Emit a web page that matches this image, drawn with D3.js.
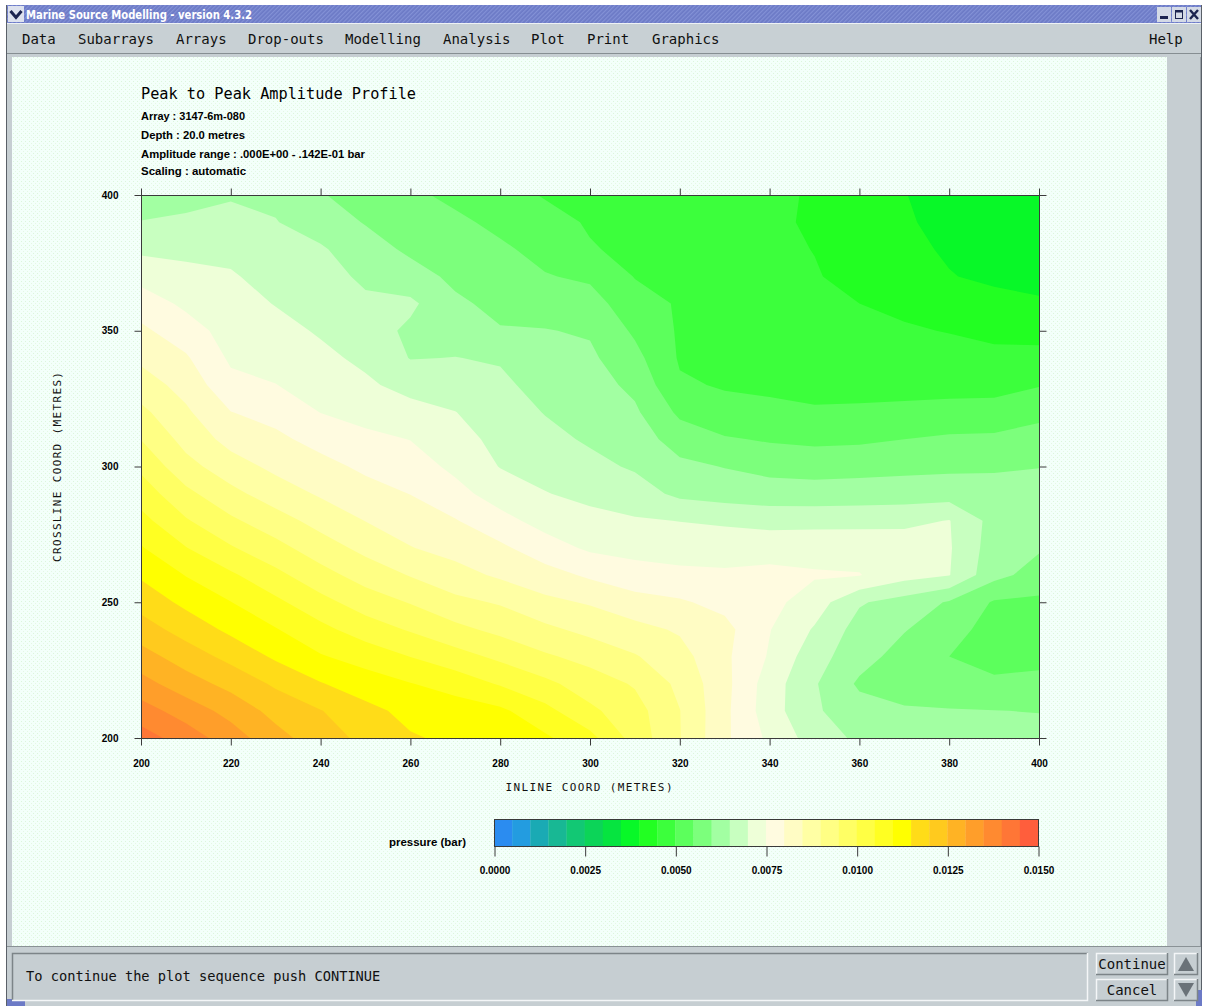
<!DOCTYPE html>
<html>
<head>
<meta charset="utf-8">
<script src="https://cdn.jsdelivr.net/npm/d3@7"></script>
<style>
  html, body { margin: 0; padding: 0; background: #ffffff; overflow: hidden; }
  svg { display: block; }
</style>
</head>
<body>
<svg id="win" width="1207" height="1006"></svg>
<script>
// ---- survey grid (metres) ----
const inlineCoords = [200, 210, 220, 230, 240, 250, 260, 270, 280, 290, 300,
                      310, 320, 330, 340, 350, 360, 370, 380, 390, 400];
const crosslineCoords = [400, 390, 380, 370, 360, 350, 340, 330, 320, 310, 300,
                         290, 280, 270, 260, 250, 240, 230, 220, 210, 200];

// peak-to-peak amplitude (bar), one row per crossline coordinate, west to east
const amplitudeRows = [
  [0.00620, 0.00630, 0.00645, 0.00640, 0.00603, 0.00582, 0.00560, 0.00538, 0.00515, 0.00497, 0.00489, 0.00481, 0.00472, 0.00464, 0.00456, 0.00447, 0.00425, 0.00401, 0.00388, 0.00378, 0.00370],
  [0.00652, 0.00660, 0.00666, 0.00652, 0.00626, 0.00597, 0.00579, 0.00560, 0.00538, 0.00514, 0.00496, 0.00486, 0.00477, 0.00467, 0.00457, 0.00445, 0.00425, 0.00404, 0.00390, 0.00380, 0.00370],
  [0.00690, 0.00688, 0.00687, 0.00667, 0.00656, 0.00621, 0.00591, 0.00575, 0.00558, 0.00535, 0.00503, 0.00491, 0.00480, 0.00470, 0.00459, 0.00449, 0.00430, 0.00410, 0.00395, 0.00385, 0.00380],
  [0.00734, 0.00714, 0.00705, 0.00682, 0.00669, 0.00641, 0.00619, 0.00590, 0.00573, 0.00553, 0.00542, 0.00498, 0.00490, 0.00480, 0.00470, 0.00453, 0.00437, 0.00419, 0.00402, 0.00392, 0.00390],
  [0.00776, 0.00740, 0.00718, 0.00698, 0.00682, 0.00659, 0.00660, 0.00608, 0.00588, 0.00578, 0.00570, 0.00520, 0.00495, 0.00490, 0.00483, 0.00475, 0.00450, 0.00440, 0.00425, 0.00413, 0.00404],
  [0.00810, 0.00772, 0.00730, 0.00715, 0.00695, 0.00674, 0.00640, 0.00629, 0.00603, 0.00602, 0.00595, 0.00542, 0.00494, 0.00490, 0.00485, 0.00480, 0.00465, 0.00455, 0.00448, 0.00440, 0.00434],
  [0.00840, 0.00806, 0.00742, 0.00733, 0.00711, 0.00690, 0.00648, 0.00651, 0.00645, 0.00616, 0.00609, 0.00565, 0.00495, 0.00490, 0.00488, 0.00485, 0.00480, 0.00475, 0.00468, 0.00460, 0.00464],
  [0.00874, 0.00832, 0.00764, 0.00751, 0.00730, 0.00708, 0.00684, 0.00675, 0.00661, 0.00631, 0.00621, 0.00588, 0.00506, 0.00496, 0.00493, 0.00492, 0.00490, 0.00490, 0.00488, 0.00485, 0.00497],
  [0.00912, 0.00858, 0.00801, 0.00783, 0.00749, 0.00734, 0.00717, 0.00701, 0.00673, 0.00648, 0.00632, 0.00608, 0.00540, 0.00515, 0.00509, 0.00503, 0.00505, 0.00507, 0.00512, 0.00517, 0.00537],
  [0.00949, 0.00883, 0.00833, 0.00811, 0.00783, 0.00761, 0.00749, 0.00720, 0.00685, 0.00663, 0.00644, 0.00626, 0.00577, 0.00555, 0.00545, 0.00539, 0.00542, 0.00550, 0.00559, 0.00560, 0.00570],
  [0.00989, 0.00917, 0.00872, 0.00838, 0.00816, 0.00790, 0.00773, 0.00739, 0.00698, 0.00683, 0.00663, 0.00644, 0.00612, 0.00598, 0.00585, 0.00581, 0.00583, 0.00587, 0.00590, 0.00593, 0.00599],
  [0.01027, 0.00963, 0.00914, 0.00875, 0.00844, 0.00819, 0.00799, 0.00766, 0.00728, 0.00702, 0.00688, 0.00672, 0.00639, 0.00628, 0.00622, 0.00620, 0.00623, 0.00625, 0.00627, 0.00622, 0.00615],
  [0.01066, 0.01005, 0.00959, 0.00921, 0.00882, 0.00849, 0.00826, 0.00803, 0.00766, 0.00732, 0.00714, 0.00705, 0.00699, 0.00692, 0.00683, 0.00685, 0.00685, 0.00688, 0.00702, 0.00632, 0.00622],
  [0.01104, 0.01052, 0.01005, 0.00966, 0.00924, 0.00886, 0.00852, 0.00833, 0.00810, 0.00772, 0.00742, 0.00734, 0.00728, 0.00730, 0.00732, 0.00732, 0.00733, 0.00728, 0.00705, 0.00625, 0.00605],
  [0.01143, 0.01098, 0.01058, 0.01013, 0.00968, 0.00929, 0.00897, 0.00868, 0.00842, 0.00819, 0.00792, 0.00770, 0.00762, 0.00757, 0.00762, 0.00755, 0.00752, 0.00718, 0.00702, 0.00615, 0.00580],
  [0.01181, 0.01138, 0.01101, 0.01061, 0.01016, 0.00976, 0.00947, 0.00913, 0.00895, 0.00862, 0.00845, 0.00819, 0.00806, 0.00785, 0.00765, 0.00725, 0.00655, 0.00630, 0.00595, 0.00545, 0.00540],
  [0.01223, 0.01180, 0.01139, 0.01103, 0.01064, 0.01025, 0.00995, 0.00963, 0.00937, 0.00911, 0.00886, 0.00865, 0.00844, 0.00815, 0.00752, 0.00695, 0.00630, 0.00603, 0.00570, 0.00530, 0.00530],
  [0.01270, 0.01226, 0.01185, 0.01142, 0.01104, 0.01080, 0.01049, 0.01019, 0.00989, 0.00957, 0.00933, 0.00904, 0.00868, 0.00810, 0.00745, 0.00670, 0.00620, 0.00580, 0.00550, 0.00530, 0.00540],
  [0.01318, 0.01273, 0.01234, 0.01192, 0.01153, 0.01124, 0.01102, 0.01079, 0.01045, 0.01012, 0.00975, 0.00945, 0.00888, 0.00815, 0.00725, 0.00655, 0.00592, 0.00580, 0.00570, 0.00560, 0.00560],
  [0.01372, 0.01327, 0.01283, 0.01233, 0.01202, 0.01165, 0.01135, 0.01125, 0.01110, 0.01065, 0.01010, 0.00970, 0.00901, 0.00812, 0.00722, 0.00657, 0.00620, 0.00605, 0.00603, 0.00601, 0.00598],
  [0.01422, 0.01377, 0.01324, 0.01268, 0.01222, 0.01188, 0.01155, 0.01140, 0.01128, 0.01108, 0.01065, 0.00980, 0.00902, 0.00810, 0.00739, 0.00677, 0.00640, 0.00630, 0.00625, 0.00620, 0.00620]
];

// contour levels (bar) and the fill of each band [level, next level)
const levels = [0.0000, 0.0005, 0.0010, 0.0015, 0.0020, 0.0025, 0.0030, 0.0035, 0.0040, 0.0045,
                0.0050, 0.0055, 0.0060, 0.0065, 0.0070, 0.0075, 0.0080, 0.0085, 0.0090, 0.0095,
                0.0100, 0.0105, 0.0110, 0.0115, 0.0120, 0.0125, 0.0130, 0.0135, 0.0140, 0.0145, 0.0150];
const bandColors = ["#2b8cf0", "#239ce0", "#1aaab4", "#18b894", "#12c874", "#0cd458", "#06e440", "#08f828",
                    "#22ff22", "#3cff3c", "#5cff5c", "#7cff7c", "#a2ffa2", "#c8ffc0", "#eeffd8",
                    "#fffbe0", "#fffcc4", "#ffffa4", "#ffff84", "#ffff64", "#ffff44", "#ffff22", "#ffff00",
                    "#ffdc18", "#ffca1e", "#ffb324", "#ff9e2a", "#ff8a30", "#ff7636", "#ff5e3c"];

// axis ticks
const inlineTicks = [200, 220, 240, 260, 280, 300, 320, 340, 360, 380, 400];
const crosslineTicks = [200, 250, 300, 350, 400];
const pressureTicks = [0.0000, 0.0025, 0.0050, 0.0075, 0.0100, 0.0125, 0.0150];

// window texts
const menuItems = ["Data", "Subarrays", "Arrays", "Drop-outs", "Modelling", "Analysis", "Plot", "Print", "Graphics"];
const menuX = [22, 78, 176, 248, 345, 443, 531, 587, 652];
const headerLines = ["Array : 3147-6m-080", "Depth : 20.0 metres",
                     "Amplitude range : .000E+00 - .142E-01 bar", "Scaling : automatic"];

const MONO = "'DejaVu Sans Mono', monospace";
const SMALL = "'Liberation Sans', Arial, sans-serif";
const GREY = "#c6ced2";

const svg = d3.select("#win");
const defs = svg.append("defs");

// hatched title bar
const hatch = defs.append("pattern").attr("id", "hatch").attr("width", 3).attr("height", 3)
  .attr("patternUnits", "userSpaceOnUse").attr("patternTransform", "rotate(45)");
hatch.append("rect").attr("width", 3).attr("height", 3).attr("fill", "#6c7ac6");
hatch.append("rect").attr("width", 1.2).attr("height", 3).attr("fill", "#8391d6");

// speckled canvas background
const speck = defs.append("pattern").attr("id", "speck").attr("width", 4).attr("height", 4)
  .attr("patternUnits", "userSpaceOnUse");
speck.append("rect").attr("width", 4).attr("height", 4).attr("fill", "#f3fffa");
speck.append("rect").attr("x", 1).attr("y", 1).attr("width", 1).attr("height", 1).attr("fill", "#dcf6dc");
speck.append("rect").attr("x", 3).attr("y", 3).attr("width", 1).attr("height", 1).attr("fill", "#e4f8e4");

// ---- window chrome ----
svg.append("rect").attr("x", 6).attr("y", 5).attr("width", 1196).attr("height", 1001).attr("fill", GREY);
svg.append("line").attr("x1", 6.5).attr("y1", 5).attr("x2", 6.5).attr("y2", 1006).attr("stroke", "#5a6068");
svg.append("line").attr("x1", 1201.5).attr("y1", 5).attr("x2", 1201.5).attr("y2", 1006).attr("stroke", "#5a6068");
svg.append("rect").attr("x", 7).attr("y", 999).attr("width", 18).attr("height", 7).attr("fill", "#6c7ac6");
svg.append("rect").attr("x", 1196).attr("y", 990).attr("width", 6).attr("height", 16).attr("fill", "#6c7ac6");

// title bar
svg.append("rect").attr("x", 7).attr("y", 5).attr("width", 1194).attr("height", 18).attr("fill", "url(#hatch)");
svg.append("rect").attr("x", 8).attr("y", 6).attr("width", 16).attr("height", 16).attr("fill", "#dde2ee");
svg.append("path").attr("d", "M10.5,11 L16,17.5 L21.5,11").attr("fill", "none")
  .attr("stroke", "#1c2450").attr("stroke-width", 3);
svg.append("text").attr("x", 26).attr("y", 19).attr("fill", "#ffffff")
  .attr("font-family", "'DejaVu Sans Condensed', 'DejaVu Sans', sans-serif").attr("font-weight", "bold")
  .attr("font-size", 11.5).attr("textLength", 226).attr("lengthAdjust", "spacingAndGlyphs")
  .text("Marine Source Modelling - version 4.3.2");
[1157, 1172, 1187].forEach((bx, i) => {
  svg.append("rect").attr("x", bx).attr("y", 7).attr("width", 14).attr("height", 15).attr("fill", "#d4dae6");
  if (i === 0) svg.append("rect").attr("x", bx + 3).attr("y", 16).attr("width", 8).attr("height", 3).attr("fill", "#1c2450");
  if (i === 1) {
    svg.append("rect").attr("x", bx + 3.5).attr("y", 10.5).attr("width", 7).attr("height", 8)
      .attr("fill", "none").attr("stroke", "#1c2450");
    svg.append("rect").attr("x", bx + 3).attr("y", 10).attr("width", 8).attr("height", 2.5).attr("fill", "#1c2450");
  }
  if (i === 2) svg.append("path").attr("d", `M${bx + 3},10 L${bx + 11},19 M${bx + 11},10 L${bx + 3},19`)
    .attr("stroke", "#1c2450").attr("stroke-width", 2.4);
});

// menu bar
svg.append("rect").attr("x", 7).attr("y", 23).attr("width", 1194).attr("height", 30).attr("fill", "#c8d0d4");
svg.append("line").attr("x1", 7).attr("y1", 23.5).attr("x2", 1201).attr("y2", 23.5).attr("stroke", "#eef2f4");
svg.append("line").attr("x1", 7).attr("y1", 53.5).attr("x2", 1201).attr("y2", 53.5).attr("stroke", "#868e92");
svg.selectAll("text.menu").data(menuItems).join("text").attr("class", "menu")
  .attr("x", (d, i) => menuX[i]).attr("y", 44)
  .attr("font-family", MONO).attr("font-size", 14).attr("fill", "#101010").text(d => d);
svg.append("text").attr("x", 1149).attr("y", 44).attr("font-family", MONO).attr("font-size", 14)
  .attr("fill", "#101010").text("Help");

// drawing canvas
svg.append("rect").attr("x", 12).attr("y", 57).attr("width", 1155).attr("height", 889).attr("fill", "url(#speck)");
svg.append("line").attr("x1", 1200.5).attr("y1", 57).attr("x2", 1200.5).attr("y2", 946).attr("stroke", "#9aa2a8");

// ---- contour plot ----
const x = d3.scaleLinear().domain([200, 400]).range([141, 1039]);
const y = d3.scaleLinear().domain([200, 400]).range([738, 195]);

defs.append("clipPath").attr("id", "plotClip").append("rect")
  .attr("x", x(200)).attr("y", y(400)).attr("width", x(400) - x(200)).attr("height", y(200) - y(400));

const nx = inlineCoords.length, ny = crosslineCoords.length;
// grid samples sit at cell centres in the contour generator's coordinate space
const gx = d3.scaleLinear().domain([0.5, nx - 0.5]).range([x(inlineCoords[0]), x(inlineCoords[nx - 1])]);
const gy = d3.scaleLinear().domain([0.5, ny - 0.5]).range([y(crosslineCoords[0]), y(crosslineCoords[ny - 1])]);
const gridToPlot = d3.geoTransform({ point(px, py) { this.stream.point(gx(px), gy(py)); } });
const contourPath = d3.geoPath(gridToPlot);

const bands = d3.contours().size([nx, ny]).thresholds(levels.slice(0, -1))(amplitudeRows.flat());

svg.append("g").attr("clip-path", "url(#plotClip)")
  .selectAll("path").data(bands).join("path")
  .attr("d", contourPath)
  .attr("fill", d => bandColors[levels.indexOf(d.value)]);

// frame and ticks
svg.append("rect").attr("x", x(200) + 0.5).attr("y", y(400) + 0.5)
  .attr("width", x(400) - x(200)).attr("height", y(200) - y(400))
  .attr("fill", "none").attr("stroke", "#3a3a3a");

function styleAxis(g) {
  g.select(".domain").remove();
  g.selectAll(".tick line").attr("stroke", "#3a3a3a");
  g.selectAll(".tick text").attr("font-family", SMALL).attr("font-weight", "bold")
    .attr("font-size", 10).attr("fill", "#000");
}
svg.append("g").attr("transform", `translate(0,${y(200) + 0.5})`)
  .call(d3.axisBottom(x).tickValues(inlineTicks).tickSize(7).tickPadding(14).tickFormat(d3.format("d")))
  .call(styleAxis);
svg.append("g").attr("transform", `translate(0,${y(400) + 0.5})`)
  .call(d3.axisTop(x).tickValues(inlineTicks).tickSize(7).tickFormat(""))
  .call(styleAxis);
svg.append("g").attr("transform", `translate(${x(200) + 0.5},0)`)
  .call(d3.axisLeft(y).tickValues(crosslineTicks).tickSize(7).tickPadding(16).tickFormat(d3.format("d")))
  .call(styleAxis);
svg.append("g").attr("transform", `translate(${x(400) + 0.5},0)`)
  .call(d3.axisRight(y).tickValues(crosslineTicks).tickSize(7).tickFormat(""))
  .call(styleAxis);

// axis titles
svg.append("text").attr("x", 589).attr("y", 791).attr("text-anchor", "middle")
  .attr("font-family", MONO).attr("font-size", 11).attr("fill", "#111")
  .attr("textLength", 167).attr("lengthAdjust", "spacing").text("INLINE COORD (METRES)");
svg.append("text").attr("transform", "translate(61,467) rotate(-90)").attr("text-anchor", "middle")
  .attr("font-family", MONO).attr("font-size", 11).attr("fill", "#111")
  .attr("textLength", 190).attr("lengthAdjust", "spacing").text("CROSSLINE COORD (METRES)");

// heading
svg.append("text").attr("x", 141).attr("y", 98.5).attr("font-family", MONO).attr("font-size", 15.5)
  .attr("fill", "#000").attr("textLength", 275).attr("lengthAdjust", "spacingAndGlyphs")
  .text("Peak to Peak Amplitude Profile");
const headerY = [120, 139, 158, 175];
const headerW = [104, 104, 224, 105];
svg.selectAll("text.hdr").data(headerLines).join("text").attr("class", "hdr")
  .attr("x", 141).attr("y", (d, i) => headerY[i])
  .attr("font-family", SMALL).attr("font-weight", "bold").attr("font-size", 10).attr("fill", "#000")
  .attr("textLength", (d, i) => headerW[i]).attr("lengthAdjust", "spacingAndGlyphs")
  .text(d => d);

// ---- colour key ----
const cb = d3.scaleLinear().domain([levels[0], levels[levels.length - 1]]).range([494, 1038]);
const cbTop = 819, cbH = 27;
svg.append("g").selectAll("rect").data(bandColors).join("rect")
  .attr("x", (d, i) => cb(levels[i])).attr("y", cbTop)
  .attr("width", (d, i) => cb(levels[i + 1]) - cb(levels[i]) + 0.3).attr("height", cbH)
  .attr("fill", d => d);
svg.append("rect").attr("x", cb(levels[0]) + 0.5).attr("y", cbTop + 0.5)
  .attr("width", cb(levels[levels.length - 1]) - cb(levels[0])).attr("height", cbH)
  .attr("fill", "none").attr("stroke", "#3a3a3a");
svg.append("g").attr("transform", `translate(0.5,${cbTop + cbH + 0.5})`)
  .call(d3.axisBottom(cb).tickValues(pressureTicks).tickSize(10).tickPadding(10).tickFormat(d3.format(".4f")))
  .call(styleAxis);
svg.append("text").attr("x", 389).attr("y", 846).attr("font-family", SMALL).attr("font-weight", "bold")
  .attr("font-size", 10).attr("fill", "#000").attr("textLength", 77).attr("lengthAdjust", "spacingAndGlyphs")
  .text("pressure (bar)");

// ---- status area ----
function bevel(x0, y0, w, h, raised) {
  const light = "#f4f6f8", dark = "#7c8488";
  svg.append("rect").attr("x", x0).attr("y", y0).attr("width", w).attr("height", h).attr("fill", GREY);
  svg.append("path").attr("d", `M${x0 + 0.5},${y0 + h} V${y0 + 0.5} H${x0 + w}`)
    .attr("fill", "none").attr("stroke", raised ? light : dark).attr("stroke-width", 1.5);
  svg.append("path").attr("d", `M${x0 + w - 0.5},${y0} V${y0 + h - 0.5} H${x0}`)
    .attr("fill", "none").attr("stroke", raised ? dark : light).attr("stroke-width", 1.5);
}
svg.append("line").attr("x1", 7).attr("y1", 946.5).attr("x2", 1201).attr("y2", 946.5).attr("stroke", "#8a9296");
bevel(12, 953, 1076, 48, false);
svg.append("text").attr("x", 26).attr("y", 981).attr("font-family", MONO).attr("font-size", 13.7)
  .attr("fill", "#101010").text("To continue the plot sequence push CONTINUE");
bevel(1096, 953, 72, 22, true);
bevel(1096, 979, 72, 22, true);
svg.append("text").attr("x", 1132).attr("y", 968.5).attr("text-anchor", "middle").attr("font-family", MONO)
  .attr("font-size", 14).attr("fill", "#101010").text("Continue");
svg.append("text").attr("x", 1132).attr("y", 995).attr("text-anchor", "middle").attr("font-family", MONO)
  .attr("font-size", 14).attr("fill", "#101010").text("Cancel");
bevel(1174, 953, 24, 22, true);
bevel(1174, 979, 24, 22, true);
svg.append("path").attr("d", "M1186,957 L1194,971 L1178,971 Z").attr("fill", "#6a7278");
svg.append("path").attr("d", "M1178,983 L1194,983 L1186,997 Z").attr("fill", "#6a7278");
</script>
</body>
</html>
